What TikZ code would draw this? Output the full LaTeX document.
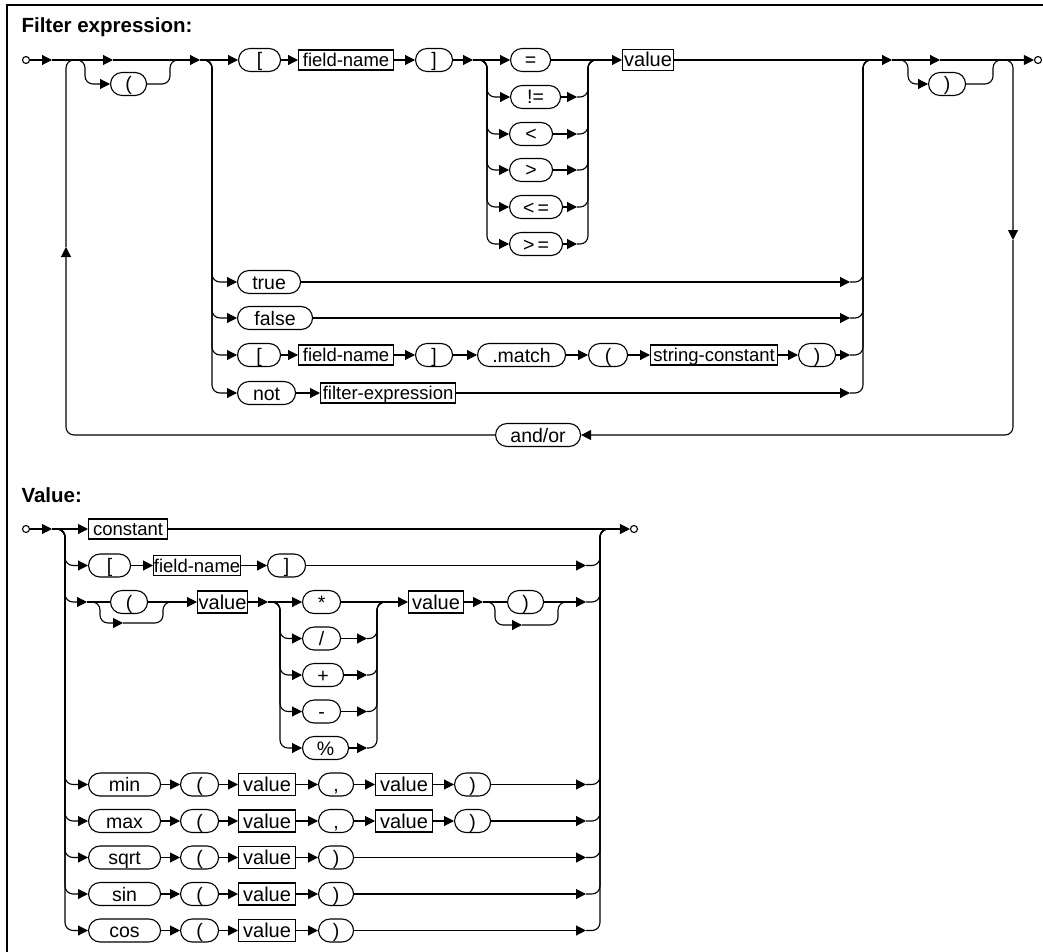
\documentclass[tikz,border=0pt]{standalone}
\usepackage{fontspec}
\setmainfont{Liberation Sans}
\usetikzlibrary{arrows.meta}

\newcommand{\pillfont}{\fontsize{19.5}{19.5}\selectfont}
\newcommand{\termfont}{\fontsize{18.5}{18.5}\selectfont}
\newcommand{\valfont}{\fontsize{20}{20}\selectfont}
\newcommand{\headfont}{\fontsize{20.5}{20.5}\selectfont\bfseries}

\begin{document}
\begin{tikzpicture}[
      x=1pt, y=-1pt,
      line width=1.1pt,
      pill/.style={draw,rounded corners=11.5pt,minimum height=23pt,
                   inner sep=0pt,text height=14pt,text depth=0pt,
                   anchor=west,font=\pillfont},
      term/.style={draw,minimum height=20pt,inner sep=0pt,
                   text height=13.5pt,text depth=0.5pt,
                   anchor=west,font=\termfont},
      valbox/.style={term,minimum height=22pt,text height=14.5pt,
                     text depth=0.5pt,font=\valfont},
      dot/.style={draw,circle,fill=white,inner sep=0pt,minimum size=7pt},
      head/.style={anchor=base west,inner sep=0pt,font=\headfont},
      arr/.style={-{Triangle[length=10pt,width=10pt]}},
      rail/.style={rounded corners=8pt},
    ]
    \useasboundingbox (0,0) rectangle (1043,952);

    % ── Frame ──────────────────────────────────────────────────────────────
    \draw[line width=1.4pt] (1043,5) -- (7,5) -- (7,952);

    % ── Filter expression: junctions ──────────────────────────────────────
    \node[head] (hF) at (21,33) {Filter expression:};
    \node[dot]  (sF) at (26,60) {};
    \node[dot]  (eF) at (1038,60) {};

    \coordinate (aF)    at (52,60);
    \coordinate (bpF1)  at (85,60);
    \coordinate (tF1)   at (113,60);
    \coordinate (bpF2)  at (170,60);
    \coordinate (bpF2b) at (182,60);
    \coordinate (tF2)   at (200,60);
    \coordinate (jA)    at (212,60);
    \coordinate (tB)    at (473,60);
    \coordinate (jB)    at (487,60);
    \coordinate (jC)    at (588,60);
    \coordinate (jC1)   at (600,60);
    \coordinate (jD)    at (863,60);
    \coordinate (jD1)   at (878,60);
    \coordinate (tD)    at (892,60);
    \coordinate (bpF3)  at (908,60);
    \coordinate (tE)    at (940,60);
    \coordinate (bpF4)  at (993,60);
    \coordinate (jR)    at (1000,60);
    \coordinate (upL)   at (66,247);
    \coordinate (dnR)   at (1013,240);

    % ── Filter expression: top row ────────────────────────────────────────
    \node[pill,minimum width=36pt] (lpF)  at (110,84) {(};
    \node[pill,minimum width=42pt] (lbF)  at (238,60) {[};
    \node[term,minimum width=95pt] (fnF)  at (298,60) {field-name};
    \node[pill,minimum width=37pt] (rbF)  at (415,60) {]};
    \node[pill,minimum width=40pt] (eqF)  at (510,60) {=};
    \node[pill,minimum width=50pt] (neF)  at (510,97) {!=};
    \node[pill,minimum width=43pt] (ltF)  at (509,134) {<};
    \node[pill,minimum width=43pt] (gtF)  at (509,170) {>};
    \node[pill,minimum width=53pt] (leF)  at (509,207) {<\,=};
    \node[pill,minimum width=53pt] (geF)  at (509,244) {>\,=};
    \node[valbox,minimum height=21pt,minimum width=51pt] (valF) at (622,60) {value};
    \node[pill,minimum width=37pt] (rpF)  at (928,84) {)};

    \coordinate (neF-o) at (577,97);
    \coordinate (ltF-o) at (577,134);
    \coordinate (gtF-o) at (577,170);
    \coordinate (leF-o) at (577,207);
    \coordinate (geF-o) at (577,244);

    % ── Filter expression: other rows ─────────────────────────────────────
    \node[pill,minimum width=63pt]  (trueF)  at (237,282) {true};
    \node[pill,minimum width=75pt]  (falseF) at (237,318) {false};
    \node[pill,minimum width=43pt]  (lbM)    at (237,355) {[};
    \node[term,minimum width=95pt]  (fnM)    at (298,355) {field-name};
    \node[pill,minimum width=37pt]  (rbM)    at (415,355) {]};
    \node[pill,minimum width=88pt]  (matchM) at (477,355) {.match};
    \node[pill,minimum width=39pt]  (lpM)    at (588,355) {(};
    \node[term,minimum width=127pt] (scM)    at (650,355) {string-constant};
    \node[pill,minimum width=37pt]  (rpM)    at (798,355) {)};
    \node[pill,minimum width=58pt]  (notF)   at (237,393) {not};
    \node[term,minimum width=135pt] (feF)    at (320,393) {filter-expression};
    \node[pill,minimum width=85pt]  (andor)  at (495,435) {and/or};

    \coordinate (trueF-o)  at (850,282);
    \coordinate (falseF-o) at (850,318);
    \coordinate (rpM-o)    at (850,355);
    \coordinate (feF-o)    at (850,393);

    % ── Filter expression: main line ──────────────────────────────────────
    \draw[arr] (sF)   -- (aF);
    \draw[arr] (aF)   -- (tF1);
    \draw[arr] (tF1)  -- (tF2);
    \draw[arr] (tF2)  -- (lbF);
    \draw[arr] (lbF)  -- (fnF);
    \draw[arr] (fnF)  -- (rbF);
    \draw[arr] (rbF)  -- (tB);
    \draw[arr] (tB)   -- (eqF);
    \draw[arr] (eqF)  -- (valF);
    \draw[arr] (valF) -- (tD);
    \draw[arr] (tD)   -- (tE);
    \draw[arr] (tE)   -- (eF);

    % optional ( and )
    \draw[rail,arr] (aF) -- (bpF1) |- (lpF);
    \draw[rail] (lpF) -| (bpF2) -- (bpF2b);
    \draw[rail,arr] (tD) -- (bpF3) |- (rpF);
    \draw[rail] (rpF) -| (bpF4) -- (jR);

    % ── Comparison operators ──────────────────────────────────────────────
    \draw[rail,arr] (tB) -- (jB) |- (neF);
    \draw[rail,arr] (tB) -- (jB) |- (ltF);
    \draw[rail,arr] (tB) -- (jB) |- (gtF);
    \draw[rail,arr] (tB) -- (jB) |- (leF);
    \draw[rail,arr] (tB) -- (jB) |- (geF);
    \draw[arr] (neF) -- (neF-o);
    \draw[arr] (ltF) -- (ltF-o);
    \draw[arr] (gtF) -- (gtF-o);
    \draw[arr] (leF) -- (leF-o);
    \draw[arr] (geF) -- (geF-o);
    \draw[rail] (neF-o) -| (jC) -- (jC1);
    \draw[rail] (ltF-o) -| (jC) -- (jC1);
    \draw[rail] (gtF-o) -| (jC) -- (jC1);
    \draw[rail] (leF-o) -| (jC) -- (jC1);
    \draw[rail] (geF-o) -| (jC) -- (jC1);

    % ── Alternatives ──────────────────────────────────────────────────────
    \draw[rail,arr] (tF2) -- (jA) |- (trueF);
    \draw[rail,arr] (tF2) -- (jA) |- (falseF);
    \draw[rail,arr] (tF2) -- (jA) |- (lbM);
    \draw[rail,arr] (tF2) -- (jA) |- (notF);

    \draw[arr] (trueF)  -- (trueF-o);
    \draw[arr] (falseF) -- (falseF-o);
    \draw[arr] (lbM)    -- (fnM);
    \draw[arr] (fnM)    -- (rbM);
    \draw[arr] (rbM)    -- (matchM);
    \draw[arr] (matchM) -- (lpM);
    \draw[arr] (lpM)    -- (scM);
    \draw[arr] (scM)    -- (rpM);
    \draw[arr] (rpM)    -- (rpM-o);
    \draw[arr] (notF)   -- (feF);
    \draw[arr] (feF)    -- (feF-o);

    \draw[rail] (trueF-o)  -| (jD) -- (jD1);
    \draw[rail] (falseF-o) -| (jD) -- (jD1);
    \draw[rail] (rpM-o)    -| (jD) -- (jD1);
    \draw[rail] (feF-o)    -| (jD) -- (jD1);

    % ── Repeat with and/or ────────────────────────────────────────────────
    \draw[rail,arr] (jR) -| (dnR);
    \draw[rail,arr] (dnR) |- (andor);
    \draw[rail,arr] (andor) -| (upL);
    \draw[rail] (upL) |- (bpF1);

    % ── Value: junctions ──────────────────────────────────────────────────
    \node[head] (hV) at (21,502) {Value:};
    \node[dot]  (sV) at (26,529) {};
    \node[dot]  (eV) at (634,529) {};

    \coordinate (aV)  at (52,529);
    \coordinate (jV)  at (65,529);
    \coordinate (jW)  at (600,529);
    \coordinate (jW1) at (612,529);

    % ── Value: constant and field ─────────────────────────────────────────
    \node[term,minimum width=79pt] (constV) at (88,529) {constant};
    \node[pill,minimum width=42pt] (lbV) at (88,565.5) {[};
    \node[term,minimum width=87pt] (fnV) at (153,565.5) {field-name};
    \node[pill,minimum width=38pt] (rbV) at (267,565.5) {]};
    \coordinate (rbV-o) at (586,565.5);

    % ── Value: arithmetic ─────────────────────────────────────────────────
    \coordinate (tV1)   at (87,602);
    \coordinate (bpV1)  at (100,602);
    \coordinate (bV1)   at (123,623);
    \coordinate (bpV2)  at (163,602);
    \coordinate (bpV2b) at (175,602);
    \coordinate (tV2)   at (268,602);
    \coordinate (jOp)   at (280,602);
    \coordinate (jOpR)  at (377,602);
    \coordinate (jOpR1) at (390,602);
    \coordinate (tV3)   at (483,602);
    \coordinate (bpV3)  at (495,602);
    \coordinate (bV2)   at (522,625);
    \coordinate (bpV4)  at (558,602);
    \coordinate (bpV4b) at (570,602);
    \coordinate (rpV-o) at (586,602);

    \node[pill,minimum width=37pt]   (lpV)   at (110,602) {(};
    \node[valbox,minimum width=50pt] (valV1) at (197,602) {value};
    \node[pill,minimum width=38pt]   (mulV)  at (302,602) {*};
    \node[pill,minimum width=38pt]   (divV)  at (302,638.5) {/};
    \node[pill,minimum width=41pt]   (addV)  at (302,675) {+};
    \node[pill,minimum width=38pt]   (subV)  at (302,711.5) {-};
    \node[pill,minimum width=46pt]   (modV)  at (302,748) {\%};
    \node[valbox,minimum width=55pt] (valV2) at (408,602) {value};
    \node[pill,minimum width=36pt]   (rpV)   at (507,602) {)};

    \coordinate (divV-o) at (367,638.5);
    \coordinate (addV-o) at (367,675);
    \coordinate (subV-o) at (367,711.5);
    \coordinate (modV-o) at (367,748);

    % ── Value: functions ──────────────────────────────────────────────────
    \node[pill,minimum width=72pt]   (minV)    at (88,784.5) {min};
    \node[pill,minimum width=38pt]   (minV-lp) at (180,784.5) {(};
    \node[valbox,minimum width=57pt] (minV-v1) at (238,784.5) {value};
    \node[pill,minimum width=35pt]   (minV-cm) at (318,784.5) {,};
    \node[valbox,minimum width=57pt] (minV-v2) at (375,784.5) {value};
    \node[pill,minimum width=36pt]   (minV-rp) at (454,784.5) {)};
    \coordinate (minV-o) at (586,784.5);

    \node[pill,minimum width=72pt]   (maxV)    at (88,821) {max};
    \node[pill,minimum width=38pt]   (maxV-lp) at (180,821) {(};
    \node[valbox,minimum width=57pt] (maxV-v1) at (238,821) {value};
    \node[pill,minimum width=35pt]   (maxV-cm) at (318,821) {,};
    \node[valbox,minimum width=57pt] (maxV-v2) at (375,821) {value};
    \node[pill,minimum width=36pt]   (maxV-rp) at (454,821) {)};
    \coordinate (maxV-o) at (586,821);

    \node[pill,minimum width=72pt]   (sqrtV)    at (88,857.5) {sqrt};
    \node[pill,minimum width=38pt]   (sqrtV-lp) at (180,857.5) {(};
    \node[valbox,minimum width=57pt] (sqrtV-v1) at (238,857.5) {value};
    \node[pill,minimum width=35pt]   (sqrtV-rp) at (318,857.5) {)};
    \coordinate (sqrtV-o) at (586,857.5);

    \node[pill,minimum width=72pt]   (sinV)    at (88,894) {sin};
    \node[pill,minimum width=38pt]   (sinV-lp) at (180,894) {(};
    \node[valbox,minimum width=57pt] (sinV-v1) at (238,894) {value};
    \node[pill,minimum width=35pt]   (sinV-rp) at (318,894) {)};
    \coordinate (sinV-o) at (586,894);

    \node[pill,minimum width=72pt]   (cosV)    at (88,930.5) {cos};
    \node[pill,minimum width=38pt]   (cosV-lp) at (180,930.5) {(};
    \node[valbox,minimum width=57pt] (cosV-v1) at (238,930.5) {value};
    \node[pill,minimum width=35pt]   (cosV-rp) at (318,930.5) {)};
    \coordinate (cosV-o) at (586,930.5);

    % ── Value: connections ────────────────────────────────────────────────
    \draw[arr] (sV) -- (aV);
    \draw[arr] (aV) -- (constV);
    \draw[arr] (constV) -- (eV);

    \draw[rail,arr] (aV) -- (jV) |- (lbV);
    \draw[rail,arr] (aV) -- (jV) |- (tV1);
    \draw[rail,arr] (aV) -- (jV) |- (minV);
    \draw[rail,arr] (aV) -- (jV) |- (maxV);
    \draw[rail,arr] (aV) -- (jV) |- (sqrtV);
    \draw[rail,arr] (aV) -- (jV) |- (sinV);
    \draw[rail,arr] (aV) -- (jV) |- (cosV);

    \draw[arr] (lbV) -- (fnV);
    \draw[arr] (fnV) -- (rbV);
    \draw[arr] (rbV) -- (rbV-o);

    \draw (tV1) -- (lpV);
    \draw[rail,arr] (tV1) -- (bpV1) |- (bV1);
    \draw[rail] (bV1) -| (bpV2) -- (bpV2b);
    \draw[arr] (lpV) -- (valV1);
    \draw[arr] (valV1) -- (tV2);
    \draw[arr] (tV2) -- (mulV);
    \draw[rail,arr] (tV2) -- (jOp) |- (divV);
    \draw[rail,arr] (tV2) -- (jOp) |- (addV);
    \draw[rail,arr] (tV2) -- (jOp) |- (subV);
    \draw[rail,arr] (tV2) -- (jOp) |- (modV);
    \draw[arr] (divV) -- (divV-o);
    \draw[arr] (addV) -- (addV-o);
    \draw[arr] (subV) -- (subV-o);
    \draw[arr] (modV) -- (modV-o);
    \draw[rail] (divV-o) -| (jOpR) -- (jOpR1);
    \draw[rail] (addV-o) -| (jOpR) -- (jOpR1);
    \draw[rail] (subV-o) -| (jOpR) -- (jOpR1);
    \draw[rail] (modV-o) -| (jOpR) -- (jOpR1);
    \draw[arr] (mulV) -- (valV2);
    \draw[arr] (valV2) -- (tV3);
    \draw (tV3) -- (rpV);
    \draw[rail,arr] (tV3) -- (bpV3) |- (bV2);
    \draw[rail] (bV2) -| (bpV4) -- (bpV4b);
    \draw[arr] (rpV) -- (rpV-o);

    \draw[arr] (minV) -- (minV-lp);
    \draw[arr] (minV-lp) -- (minV-v1);
    \draw[arr] (minV-v1) -- (minV-cm);
    \draw[arr] (minV-cm) -- (minV-v2);
    \draw[arr] (minV-v2) -- (minV-rp);
    \draw[arr] (minV-rp) -- (minV-o);

    \draw[arr] (maxV) -- (maxV-lp);
    \draw[arr] (maxV-lp) -- (maxV-v1);
    \draw[arr] (maxV-v1) -- (maxV-cm);
    \draw[arr] (maxV-cm) -- (maxV-v2);
    \draw[arr] (maxV-v2) -- (maxV-rp);
    \draw[arr] (maxV-rp) -- (maxV-o);

    \draw[arr] (sqrtV) -- (sqrtV-lp);
    \draw[arr] (sqrtV-lp) -- (sqrtV-v1);
    \draw[arr] (sqrtV-v1) -- (sqrtV-rp);
    \draw[arr] (sqrtV-rp) -- (sqrtV-o);

    \draw[arr] (sinV) -- (sinV-lp);
    \draw[arr] (sinV-lp) -- (sinV-v1);
    \draw[arr] (sinV-v1) -- (sinV-rp);
    \draw[arr] (sinV-rp) -- (sinV-o);

    \draw[arr] (cosV) -- (cosV-lp);
    \draw[arr] (cosV-lp) -- (cosV-v1);
    \draw[arr] (cosV-v1) -- (cosV-rp);
    \draw[arr] (cosV-rp) -- (cosV-o);

    \draw[rail] (rbV-o)   -| (jW) -- (jW1);
    \draw[rail] (rpV-o)   -| (jW) -- (jW1);
    \draw[rail] (minV-o)  -| (jW) -- (jW1);
    \draw[rail] (maxV-o)  -| (jW) -- (jW1);
    \draw[rail] (sqrtV-o) -| (jW) -- (jW1);
    \draw[rail] (sinV-o)  -| (jW) -- (jW1);
    \draw[rail] (cosV-o)  -| (jW) -- (jW1);

  \end{tikzpicture}
\end{document}
